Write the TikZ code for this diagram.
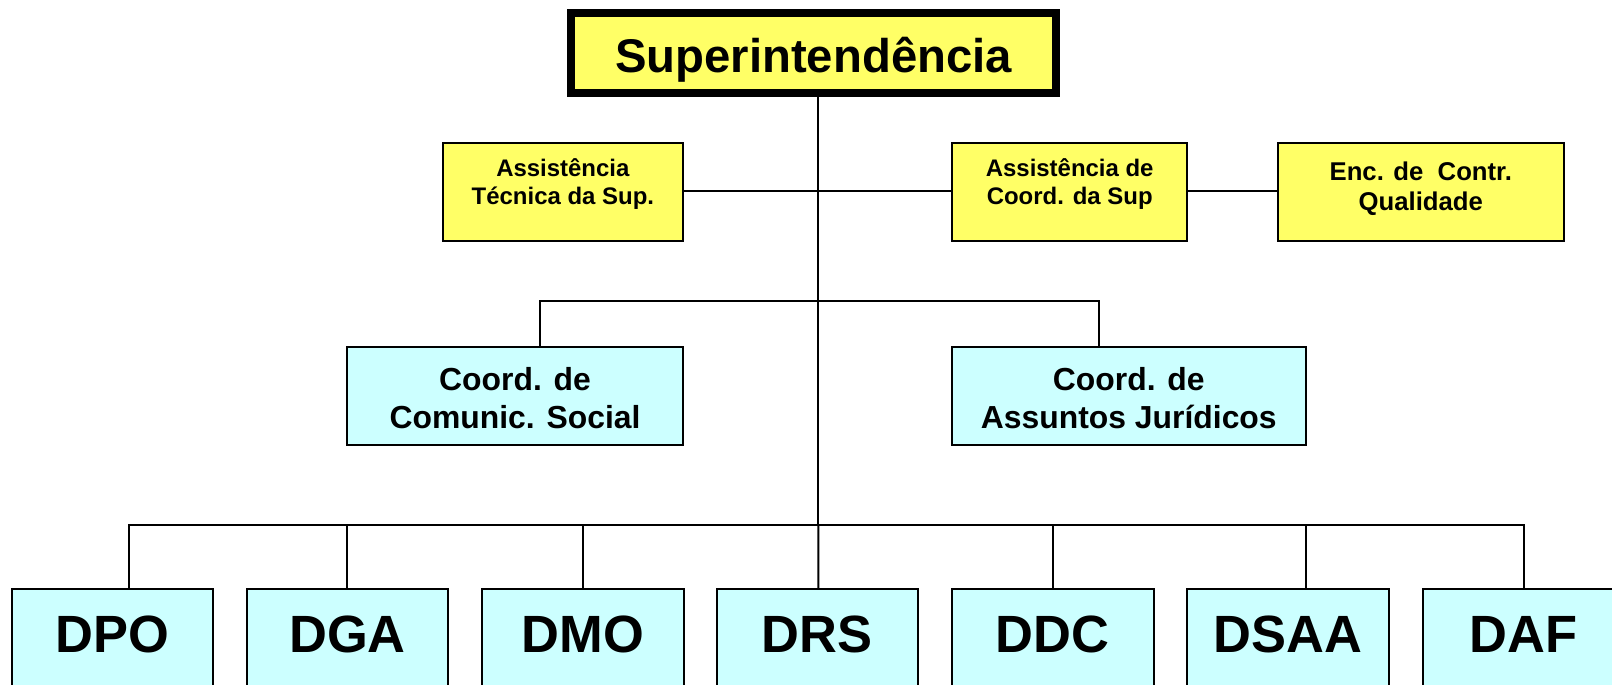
\documentclass[tikz,border=0pt]{standalone}
\usepackage{fontspec}
\setmainfont{Liberation Sans}
\definecolor{boxyellow}{HTML}{FFFF66}
\definecolor{boxcyan}{HTML}{CCFFFF}
\newcommand{\twolines}[2]{\begin{tabular}[b]{@{}c@{}}#1\\#2\end{tabular}}
\begin{document}
\begin{tikzpicture}[x=1pt,y=-1pt,scale=1.028,
  every node/.append style={transform shape},
  conn/.style={draw=black, line width=2pt},
  base/.style={draw=black, line width=2pt, rectangle, inner sep=0pt},
  ybox/.style={base, fill=boxyellow, minimum height=95pt},
  cbox/.style={base, fill=boxcyan, minimum height=95pt},
  dbox/.style={base, fill=boxcyan, minimum width=196pt, minimum height=130pt},
  txt/.style={inner sep=0pt, anchor=base, font=\bfseries},
  ytext/.style={txt, font=\bfseries\fontsize{23.3}{27.5}\selectfont},
  etext/.style={txt, font=\bfseries\fontsize{25}{29}\selectfont},
  ctext/.style={txt, font=\bfseries\fontsize{31}{37.3}\selectfont},
  dtext/.style={txt, font=\bfseries\fontsize{51}{56}\selectfont},
  stext/.style={txt, font=\bfseries\fontsize{46}{52}\selectfont},
  superbox/.style={draw=black, line width=8pt, rectangle, fill=boxyellow, inner sep=0pt,
    minimum width=471.6pt, minimum height=78.1pt}
]
\clip (0,0) rectangle (1568,665.37);
\fill[white] (0,0) rectangle (1568,665.37);

% coordinates for buses
\coordinate (trunk) at (796,90);
\coordinate (m1) at (525,293);
\coordinate (m2) at (1069,293);
\coordinate (bl) at (125,511);
\coordinate (br) at (1482,511);
\coordinate (bc) at (796,511);

% connectors (drawn first, boxes on top)
\draw[conn] (trunk) -- (bc);
\draw[conn] (547.5,186) coordinate (ya) -- (1040.5,186) coordinate (yb);
\draw[conn] (1100,186) coordinate (yc) -- (1382,186) coordinate (yd);
\draw[conn] (m1 |- 0,338) -- (m1) -- (m2) -- (m2 |- 0,338);
\draw[conn] (bl |- 0,573) -- (bl) -- (br) -- (br |- 0,573);
\foreach \xx in {338,567,1024,1270} {
  \draw[conn] (\xx,511) -- (\xx,573);
}
\draw[conn] (bc) -- (796,573);

% top
\node[superbox] (super) at (791.3,51.7) {};
\node[stext] (supert) at (791.3,71) {Superintendência};

% assistant boxes
\node[ybox, minimum width=233pt] (ats) at (547.5,186.5) {};
\node[ybox, minimum width=229pt] (acs) at (1040.5,186.5) {};
\node[ybox, minimum width=278pt] (enc) at (1382,186.5) {};
\node[ytext] (atst) at (547.5,199.4) {\twolines{Assistência}{Técnica da Sup.}};
\node[ytext] (acst) at (1040.5,199.4) {\twolines{Assistência de}{Coord. da Sup}};
\node[etext] (enct) at (1382,204.3) {\twolines{Enc. de\ \ Contr.}{Qualidade}};

% coordination boxes
\node[cbox, minimum width=326pt] (ccs) at (501,385.5) {};
\node[cbox, minimum width=344pt] (caj) at (1098,385.5) {};
\node[ctext] (ccst) at (501,416.7) {\twolines{Coord. de}{Comunic. Social}};
\node[ctext] (cajt) at (1098,416.7) {\twolines{Coord. de}{Assuntos Jurídicos}};

% directorates
\node[dbox] (dpo) at (109.5,638) {};
\node[dbox] (dga) at (338,638) {};
\node[dbox] (dmo) at (567,638) {};
\node[dbox] (drs) at (795,638) {};
\node[dbox] (ddc) at (1024,638) {};
\node[dbox] (dsaa) at (1253,638) {};
\node[dbox] (daf) at (1482,638) {};
\node[dtext] (dpot) at (109.5,635) {DPO};
\node[dtext] (dgat) at (338,635) {DGA};
\node[dtext] (dmot) at (567,635) {DMO};
\node[dtext] (drst) at (795,635) {DRS};
\node[dtext] (ddct) at (1024,635) {DDC};
\node[dtext] (dsaat) at (1253,635) {DSAA};
\node[dtext] (daft) at (1482,635) {DAF};
\end{tikzpicture}
\end{document}
